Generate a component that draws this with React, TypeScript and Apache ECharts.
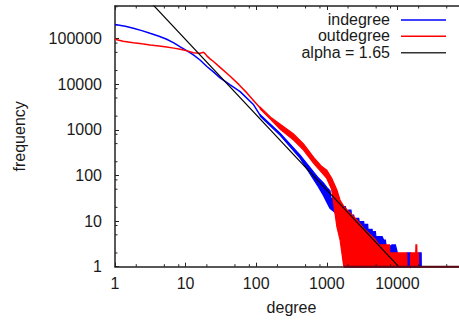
import React, { useEffect, useRef } from "react";
import * as echarts from "echarts";

// ---- axis ticks ----
const xTickLabels = ["1", "10", "100", "1000", "10000"];
const yTickLabels = ["1", "10", "100", "1000", "10000", "100000"];
const xMinorTicks = [2, 5, 8, 20, 50, 80, 200, 500, 800, 2000, 5000, 8000, 20000, 50000, 80000];
const yMinorTicks = [2, 5, 8, 20, 50, 80, 200, 500, 800, 2000, 5000, 8000, 20000, 50000, 80000, 200000, 500000];

const X_MIN = 1;
const X_MAX = 100000;
const Y_MIN = 1;
const Y_MAX = 520000;

// ---- indegree (blue) ----
const inHeadX = [1, 1.4, 1.82, 2.4, 3.13, 4.2, 5.4, 6.8, 8.4, 10.5, 12.9, 16, 20, 25, 30.8, 42.8, 59.2, 91.9, 114];
const inHeadY = [205000, 187000, 169000, 150000, 131000, 113000, 97000, 81000, 66000, 54000, 44000, 34000, 24500, 18500, 13800, 9700, 6900, 3550, 2080];
const inUpperX = [114, 219, 418, 651, 762, 900, 1000, 1110, 1147, 1277, 1330, 1425, 1553, 1600, 1641, 1830, 1900, 2040, 2200, 2240, 2275, 2400, 2460, 2535, 2830, 2900, 2985, 3330, 3420, 3515, 3795, 3850, 3920, 4375, 4500, 4615, 4875, 5000, 5150, 6070, 6400, 6760, 7000, 8410, 9370, 9900, 10200, 13700, 15300, 15500, 20000, 21700, 21800];
const inUpperY = [2150, 840, 280, 118, 88, 68, 55, 46, 31.6, 31.6, 26, 24.6, 24.6, 20, 20.7, 20.7, 16, 17.5, 17.5, 13, 13.6, 13.6, 11, 11.5, 11.5, 9, 9.7, 9.7, 7, 8.5, 8.5, 6, 6.6, 6.6, 5, 5.9, 5.9, 4.2, 4.55, 4.55, 3.85, 3.85, 2.5, 3, 3, 2.13, 1.5, 2, 2, 1, 2, 2, 1];
const inLowerX = [114, 219, 418, 651, 762, 900, 1000, 1110, 1277, 1553, 1750, 21800];
const inLowerY = [2000, 760, 240, 82, 56, 36, 26, 19, 16, 10, 1, 1];

// ---- outdegree (red) ----
const outHeadX = [1, 1.3, 1.82, 2.4, 3.13, 4.2, 5.4, 6.8, 8.4, 10.5, 12.9, 14.5, 16, 17, 17.9, 18.8, 20, 22, 24.8, 30.8, 42.8, 57, 73.8, 93, 114];
const outHeadY = [97000, 88000, 81700, 77000, 72800, 69000, 65800, 62000, 58600, 54000, 49300, 48200, 47800, 49000, 50300, 47000, 42000, 36500, 31500, 23500, 15000, 9800, 6470, 4300, 3000];
const outUpperX = [114, 160, 219, 338, 468, 651, 850, 1000, 1170, 1390, 1540, 1740, 2150, 2680, 3300, 4170, 4800, 5500, 7700, 7800, 13600, 13700, 15300, 15400, 18200, 18300, 18800, 18900, 19900, 20000];
const outUpperY = [3150, 1900, 1330, 815, 490, 250, 157, 130, 88, 48, 29, 21, 15, 10.5, 7, 5, 4, 3, 3, 2, 2, 1, 1, 2, 2, 3, 3, 2, 2, 1];
const outLowerX = [114, 160, 219, 338, 468, 651, 850, 1000, 1170, 1390, 1540, 1740, 20000];
const outLowerY = [2870, 1700, 1035, 600, 360, 185, 116, 86, 50, 7.5, 3.9, 1, 1];
const outBaseX = [1740, 100000];
const outBaseY = [1, 1];

// ---- alpha = 1.65 reference line ----
const alphaX = [1, 10425];
const alphaY = [4266000, 1];

const FONT = "'Liberation Sans', Arial, Helvetica, sans-serif";
const TXT = "#1a1a1a";
const AX = "#222";

const zip = (xs: number[], ys: number[]) => xs.map((x, i) => [x, ys[i]]);

function bandSeries(uX: number[], uY: number[], lX: number[], lY: number[], color: string) {
  return {
    type: "custom",
    coordinateSystem: "cartesian2d",
    silent: true,
    data: [[uX[0], uY[0]]],
    renderItem: (_p: any, api: any) => {
      const pts: number[][] = [];
      for (let i = 0; i < uX.length; i++) pts.push(api.coord([uX[i], uY[i]]));
      for (let i = lX.length - 1; i >= 0; i--) pts.push(api.coord([lX[i], lY[i]]));
      return {
        type: "polygon",
        shape: { points: pts },
        style: { fill: color, stroke: color, lineWidth: 1.2 },
      };
    },
  };
}

function lineSeries(xs: number[], ys: number[], color: string, width: number, clip = true) {
  return {
    type: "line",
    data: zip(xs, ys),
    symbol: "none",
    showSymbol: false,
    clip,
    lineStyle: { color, width },
    itemStyle: { color },
    silent: true,
  };
}

const minorTickSeries = {
  type: "custom",
  coordinateSystem: "cartesian2d",
  silent: true,
  data: [[1, 1]],
  renderItem: (_p: any, api: any) => {
    const children: any[] = [];
    const st = { stroke: AX, lineWidth: 1 };
    xMinorTicks.forEach((v) => {
      const b = api.coord([v, Y_MIN]);
      const t = api.coord([v, Y_MAX]);
      children.push({ type: "line", shape: { x1: b[0], y1: b[1], x2: b[0], y2: b[1] - 2.5 }, style: st });
      children.push({ type: "line", shape: { x1: t[0], y1: t[1], x2: t[0], y2: t[1] + 2.5 }, style: st });
    });
    yMinorTicks.forEach((v) => {
      const l = api.coord([X_MIN, v]);
      children.push({ type: "line", shape: { x1: l[0], y1: l[1], x2: l[0] + 2.5, y2: l[1] }, style: st });
    });
    return { type: "group", children };
  },
};

const labelFmt = (list: string[]) => (v: number) => {
  const s = String(Math.round(v));
  return list.includes(s) ? s : "";
};

export default function App() {
  const ref = useRef<HTMLDivElement>(null);
  useEffect(() => {
    if (!ref.current) return;
    const chart = echarts.init(ref.current, null, { renderer: "svg" });
    const axisCommon = {
      axisLine: { show: true, onZero: false, lineStyle: { color: AX, width: 1.5 } },
      axisTick: { show: true, inside: true, length: 4, lineStyle: { color: AX, width: 1 } },
      splitLine: { show: false },
      minorTick: { show: false },
    };
    chart.setOption({
      animation: false,
      backgroundColor: "#ffffff",
      grid: { left: 115, top: 6, width: 353, height: 260.7, containLabel: false, outerBoundsMode: "none" },
      xAxis: [
        {
          type: "log",
          logBase: 10,
          min: X_MIN,
          max: X_MAX,
          position: "bottom",
          ...axisCommon,
          axisLabel: {
            margin: 9,
            fontSize: 16,
            fontFamily: FONT,
            color: TXT,
            showMaxLabel: false,
            formatter: labelFmt(xTickLabels),
          },
          name: "degree",
          nameLocation: "middle",
          nameGap: 33,
          nameTextStyle: { fontSize: 16, fontFamily: FONT, color: TXT },
        },
        {
          type: "log",
          logBase: 10,
          min: X_MIN,
          max: X_MAX,
          position: "top",
          ...axisCommon,
          axisLabel: { show: false },
        },
      ],
      yAxis: [
        {
          type: "log",
          logBase: 10,
          min: Y_MIN,
          max: Y_MAX,
          position: "left",
          ...axisCommon,
          axisLabel: {
            margin: 13,
            fontSize: 16,
            fontFamily: FONT,
            color: TXT,
            showMaxLabel: false,
            formatter: labelFmt(yTickLabels),
          },
          name: "frequency",
          nameLocation: "middle",
          nameGap: 88,
          nameRotate: 90,
          nameTextStyle: { fontSize: 16, fontFamily: FONT, color: TXT },
        },
      ],
      graphic: [
        { type: "text", x: 390, y: 19.5, style: { text: "indegree", fill: TXT, fontSize: 16, fontFamily: FONT, align: "right", verticalAlign: "middle" } },
        { type: "text", x: 390, y: 35.8, style: { text: "outdegree", fill: TXT, fontSize: 16, fontFamily: FONT, align: "right", verticalAlign: "middle" } },
        { type: "text", x: 390, y: 52.2, style: { text: "alpha = 1.65", fill: TXT, fontSize: 16, fontFamily: FONT, align: "right", verticalAlign: "middle" } },
        { type: "line", shape: { x1: 401, y1: 20, x2: 446, y2: 20 }, style: { stroke: "#0000ff", lineWidth: 1.5 } },
        { type: "line", shape: { x1: 401, y1: 36.3, x2: 446, y2: 36.3 }, style: { stroke: "#ff0000", lineWidth: 1.5 } },
        { type: "line", shape: { x1: 401, y1: 52.7, x2: 446, y2: 52.7 }, style: { stroke: "#333333", lineWidth: 1.5 } },
      ],
      series: [
        lineSeries(inHeadX, inHeadY, "#0000ff", 1.5),
        bandSeries(inUpperX, inUpperY, inLowerX, inLowerY, "#0000ff"),
        lineSeries(outHeadX, outHeadY, "#ff0000", 1.5),
        bandSeries(outUpperX, outUpperY, outLowerX, outLowerY, "#ff0000"),
        lineSeries(alphaX, alphaY, "#000000", 1.2),
        lineSeries(outBaseX, outBaseY, "#5a0a16", 2, false),
        minorTickSeries,
      ],
    });
    return () => chart.dispose();
  }, []);
  return (
    <div
      ref={ref}
      style={{ position: "absolute", left: 0, top: 0, width: 459, height: 320, background: "#fff" }}
    />
  );
}
